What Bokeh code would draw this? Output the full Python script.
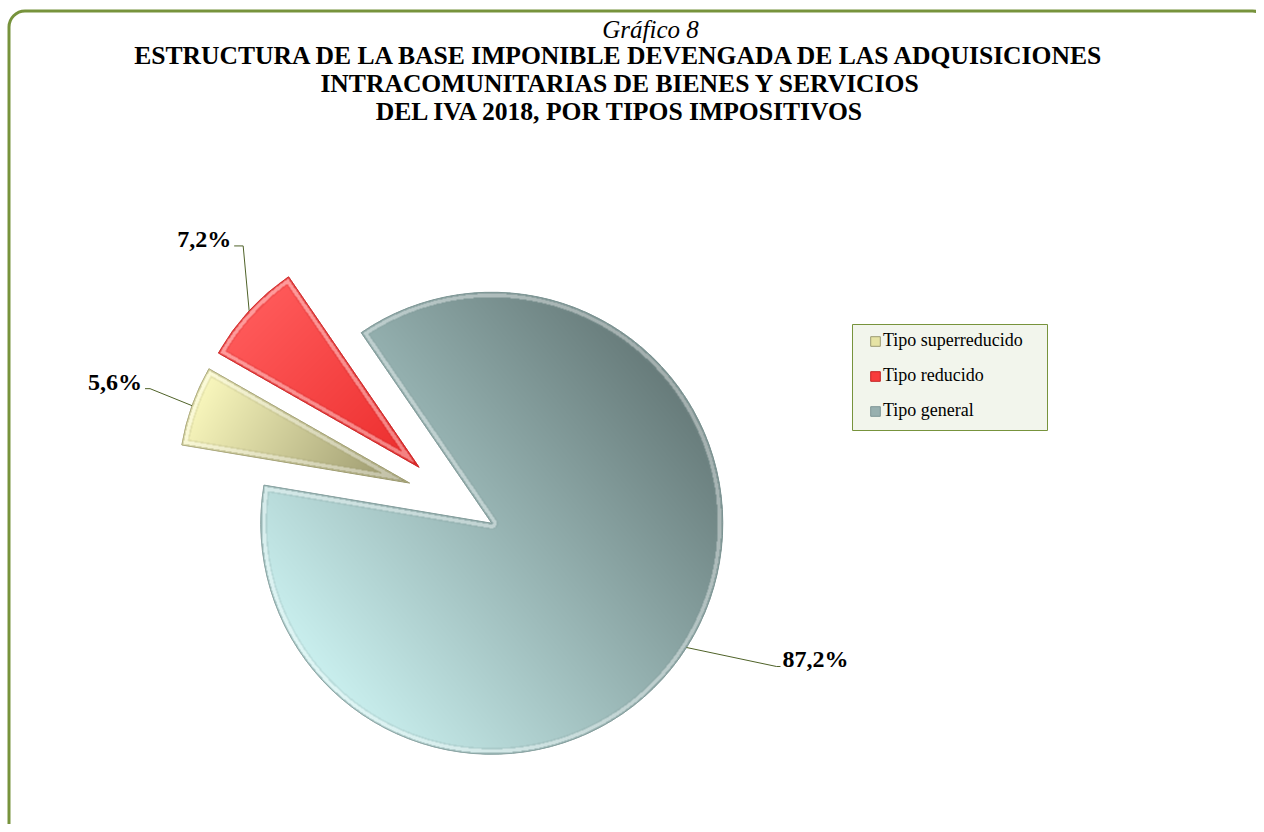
import numpy as np
from bokeh.plotting import figure
from bokeh.models import Range1d, Legend, LegendItem, BoxAnnotation, Label, ColumnDataSource
from bokeh.core.properties import value
from bokeh.embed import file_html
from bokeh.resources import INLINE

# ---------------- data ----------------
categories = ["Tipo superreducido", "Tipo reducido", "Tipo general"]
shares = [5.6, 7.2, 87.2]

title_kicker = "Gráfico 8"
title_lines = [
    "ESTRUCTURA DE LA BASE IMPONIBLE DEVENGADA DE LAS ADQUISICIONES",
    "INTRACOMUNITARIAS DE BIENES Y SERVICIOS",
    "DEL IVA 2018, POR TIPOS IMPOSITIVOS",
]

# ---------------- styles ----------------
light_cols = ["#FBF9BE", "#FF5A5A", "#CAF0EF"]
dark_cols = ["#96936A", "#EC2C2C", "#677B7A"]
mid_cols = ["#E6E3A4", "#F83C3C", "#98B0AF"]
edge_cols = ["#9C9A72", "#C42424", "#7E9695"]
grad_dir = [-30.0, -45.0, 39.0]          # gradient direction (deg), light -> dark
SERIF = "Liberation Serif"
GREEN = "#77933C"
LEADER = "#4F6228"

W, H = 1256, 824
p = figure(width=W, height=H, x_range=Range1d(0, W), y_range=Range1d(0, H),
           x_axis_type=None, y_axis_type=None, toolbar_location=None,
           output_backend="svg", min_border=0, outline_line_color=None,
           background_fill_color="white", border_fill_color="white")
p.grid.visible = False

# frame with rounded corners (right and bottom edges run off the page)
p.add_layout(BoxAnnotation(left=8.5, right=1268, top=813.5, bottom=-40,
                           fill_color=None, fill_alpha=0, line_color=GREEN,
                           line_alpha=1.0, line_width=3, border_radius=16))

# ---------------- pie geometry ----------------
CX, CY = 452.5, 326.0    # pie centre (data units = px)
R = 231.0
EXPLODE = 46.0
START = 170.5            # first slice starts here, drawn clockwise

fr = np.array(shares) / np.sum(shares)
cum = np.concatenate([[0.0], np.cumsum(fr)[:-1]])
hi = START - cum * 360.0
lo = hi - fr * 360.0
mid = (hi + lo) / 2.0
sx = CX + EXPLODE * np.cos(np.radians(mid))
sy = CY + EXPLODE * np.sin(np.radians(mid))

src = ColumnDataSource(dict(x=sx, y=sy, lo=np.radians(lo), hi=np.radians(hi),
                            fill=mid_cols, edge=edge_cols, cat=categories))
base = p.wedge(x="x", y="y", radius=R, start_angle="lo", end_angle="hi",
               direction="anticlock", source=src,
               fill_color="fill", line_color="edge", line_width=1)


def hex2rgb(h):
    h = h.lstrip("#")
    return np.array([int(h[i:i + 2], 16) for i in (0, 2, 4)], dtype=float)


def ray_dist(dx, dy, ang):
    ux, uy = np.cos(np.radians(ang)), np.sin(np.radians(ang))
    t = dx * ux + dy * uy
    cr = np.abs(ux * dy - uy * dx)
    return np.where(t > 0, cr, np.hypot(dx, dy))


# shaded (gradient + bevel) rendering of each slice, masked to the wedge
for i in range(len(shares)):
    cx, cy = sx[i], sy[i]
    a0, a1 = lo[i], hi[i]
    span = a1 - a0
    x0, x1 = int(np.floor(cx - R - 2)), int(np.ceil(cx + R + 2))
    y0, y1 = int(np.floor(cy - R - 2)), int(np.ceil(cy + R + 2))
    xs = np.arange(x0, x1) + 0.5
    ys = np.arange(y0, y1) + 0.5
    X, Y = np.meshgrid(xs, ys)
    dx, dy = X - cx, Y - cy
    d = np.hypot(dx, dy)
    ang = np.degrees(np.arctan2(dy, dx))
    rel = (ang - a0) % 360.0
    inside_ang = rel <= span
    e_arc = R - d
    e_lo = ray_dist(dx, dy, a0)
    e_hi = ray_dist(dx, dy, a1)
    edge = np.minimum(e_arc, np.minimum(e_lo, e_hi))
    inside = inside_ang & (d <= R)
    alpha = np.where(inside, np.clip(edge + 0.5, 0, 1), 0.0)
    # gradient
    g = np.radians(grad_dir[i])
    proj = X * np.cos(g) + Y * np.sin(g)
    pin = proj[inside]
    t = np.clip((proj - pin.min()) / (pin.max() - pin.min()), 0, 1)[..., None]
    rgb = hex2rgb(light_cols[i]) * (1 - t) + hex2rgb(dark_cols[i]) * t
    white = np.array([255.0, 255.0, 255.0])
    darkc = hex2rgb(edge_cols[i])
    e = edge[..., None]
    band_out = (e < 1.3)
    band_rim = (e >= 1.3) & (e < 5.0)
    band_groove = (e >= 5.0) & (e < 6.5)
    rgb = np.where(band_out, rgb * 0.45 + darkc * 0.55, rgb)
    rgb = np.where(band_rim, rgb * 0.6 + white * 0.4, rgb)
    rgb = np.where(band_groove, rgb * 0.8 + darkc * 0.2, rgb)
    ny, nx = X.shape
    img = np.zeros((ny, nx), dtype=np.uint32)
    view = img.view(dtype=np.uint8).reshape((ny, nx, 4))
    view[..., 0] = np.clip(rgb[..., 0], 0, 255).astype(np.uint8)
    view[..., 1] = np.clip(rgb[..., 1], 0, 255).astype(np.uint8)
    view[..., 2] = np.clip(rgb[..., 2], 0, 255).astype(np.uint8)
    view[..., 3] = (alpha * 255).astype(np.uint8)
    p.image_rgba(image=[img], x=x0, y=y0, dw=nx, dh=ny)

# ---------------- data labels with leader lines ----------------
# per slice: (elbow dx, elbow dy, end dx, end dy) in screen px from arc point, text side
label_layout = [
    (-42, -17, -47, -17, "right"),
    (-6, -65, -15, -65, "right"),
    (90, 19, 94, 19, "left"),
]
lead_xs, lead_ys = [], []
for i, v in enumerate(shares):
    ax = sx[i] + R * np.cos(np.radians(mid[i]))
    ay = sy[i] + R * np.sin(np.radians(mid[i]))
    ex, ey, fx, fy, side = label_layout[i]
    lead_xs.append([ax, ax + ex, ax + fx])
    lead_ys.append([ay, ay - ey, ay - fy])
    txt = f"{v:.1f}".replace(".", ",") + "%"
    tx = ax + fx + (-3 if side == "right" else 2)
    ty = ay - fy + 7
    p.text(x=[tx], y=[ty], text=[txt], text_font=value(SERIF), text_font_style="bold",
           text_font_size="24px", text_align=side, text_baseline="middle",
           text_color="black")
p.multi_line(xs=lead_xs, ys=lead_ys, line_color=LEADER, line_width=1)

# ---------------- title ----------------
p.add_layout(Label(x=650, y=795.5, text=title_kicker, text_font=SERIF,
                   text_font_style="italic", text_font_size="25px",
                   text_align="center", text_baseline="middle", text_color="black"))
for k, line in enumerate(title_lines):
    p.add_layout(Label(x=620, y=769.5 - 28.0 * k, text=line, text_font=SERIF,
                       text_font_style="bold", text_font_size="25.6px",
                       text_align="center", text_baseline="middle", text_color="black"))

# ---------------- legend ----------------
p.add_layout(BoxAnnotation(left=852, right=1047, top=500, bottom=394,
                           fill_color="#F2F5EC", fill_alpha=1.0, line_color=GREEN,
                           line_alpha=1.0, line_width=1))
legend = Legend(items=[LegendItem(label=c, renderers=[base], index=i)
                       for i, c in enumerate(categories)],
                location=(869, 403), orientation="vertical",
                label_text_font=SERIF, label_text_font_size="18px",
                label_text_color="black",
                glyph_width=12, glyph_height=12, label_standoff=2,
                label_height=20, spacing=14, padding=0, margin=0,
                border_line_color=None, background_fill_alpha=0.0)
p.add_layout(legend)

open("out.html", "w").write(file_html(p, INLINE))
